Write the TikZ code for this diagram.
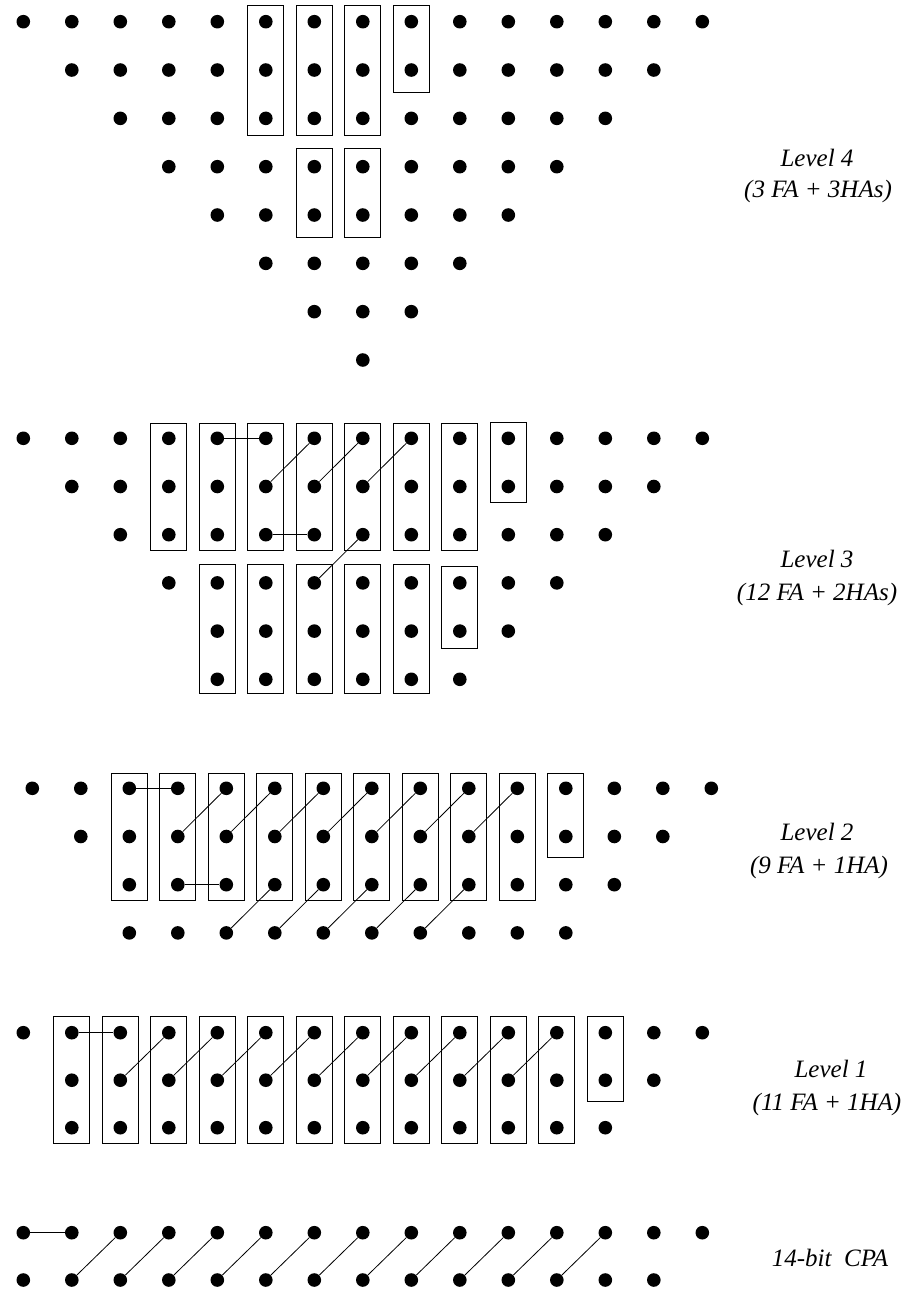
\documentclass[tikz,border=0pt]{standalone}
\usepackage{fontspec}
\setmainfont{Liberation Serif}
\begin{document}
\begin{tikzpicture}[x=0.75pt,y=-0.75pt,
  dot/.style={circle,fill=black,draw=none,inner sep=0pt,minimum size=10.2pt},
  boxline/.style={draw=black,line width=0.75pt},
  wire/.style={draw=black,line width=0.6pt},
  lbl/.style={font=\fontsize{18.75}{22}\selectfont\itshape,anchor=base,inner sep=0pt}]
\path[use as bounding box] (0,0) rectangle (913,1291);
\newcommand{\fabx}[4]{\draw[boxline] ([shift={(-18,-#3)}]#1.center) rectangle ([shift={(18,#4)}]#2.center);}
% ---------- Level 4 ----------
\foreach \r/\a/\b in {0/0/14,1/1/13,2/2/12,3/3/11,4/4/10,5/5/9,6/6/8,7/7/7}
  \foreach \c in {\a,...,\b}
    \node[dot] (d4-\r-\c) at ({23.3+48.5*\c},{21.7+48.33*\r}) {};
\foreach \c in {5,6,7} \fabx{d4-0-\c}{d4-2-\c}{16}{17};
\fabx{d4-0-8}{d4-1-8}{16}{22}
\foreach \c in {6,7} \fabx{d4-3-\c}{d4-4-\c}{18}{22};
% ---------- Level 3 ----------
\foreach \r/\a/\b in {0/0/14,1/1/13,2/2/12,3/3/11,4/4/10,5/4/9}
  \foreach \c in {\a,...,\b}
    \node[dot] (d3-\r-\c) at ({23.3+48.5*\c},{438.3+48.2*\r}) {};
\foreach \c in {3,...,9} \fabx{d3-0-\c}{d3-2-\c}{15}{16};
\fabx{d3-0-10}{d3-1-10}{16}{16}
\foreach \c in {4,...,8} \fabx{d3-3-\c}{d3-5-\c}{18}{14};
\fabx{d3-3-9}{d3-4-9}{16}{17}
\draw[wire] (d3-0-4) -- (d3-0-5);
\draw[wire] (d3-2-5) -- (d3-2-6);
\foreach \c [evaluate=\c as \n using int(\c+1)] in {5,6,7} \draw[wire] (d3-1-\c) -- (d3-0-\n);
\draw[wire] (d3-3-6) -- (d3-2-7);
% ---------- Level 2 ----------
\foreach \r/\a/\b in {0/0/14,1/1/13,2/2/12,3/2/11}
  \foreach \c in {\a,...,\b}
    \node[dot] (d2-\r-\c) at ({32.3+48.5*\c},{788.3+48.2*\r}) {};
\foreach \c in {2,...,10} \fabx{d2-0-\c}{d2-2-\c}{15}{16};
\fabx{d2-0-11}{d2-1-11}{15}{21}
\draw[wire] (d2-0-2) -- (d2-0-3);
\draw[wire] (d2-2-3) -- (d2-2-4);
\foreach \c [evaluate=\c as \n using int(\c+1)] in {3,...,9} \draw[wire] (d2-1-\c) -- (d2-0-\n);
\foreach \c [evaluate=\c as \n using int(\c+1)] in {4,...,8} \draw[wire] (d2-3-\c) -- (d2-2-\n);
% ---------- Level 1 ----------
\foreach \r/\a/\b in {0/0/14,1/1/13,2/1/12}
  \foreach \c in {\a,...,\b}
    \node[dot] (d1-\r-\c) at ({23.3+48.5*\c},{1032.7+47.5*\r}) {};
\foreach \c in {1,...,11} \fabx{d1-0-\c}{d1-2-\c}{16}{16};
\fabx{d1-0-12}{d1-1-12}{16}{21}
\draw[wire] (d1-0-1) -- (d1-0-2);
\foreach \c [evaluate=\c as \n using int(\c+1)] in {2,...,10} \draw[wire] (d1-1-\c) -- (d1-0-\n);
% ---------- CPA ----------
\foreach \r/\a/\b in {0/0/14,1/0/13}
  \foreach \c in {\a,...,\b}
    \node[dot] (d0-\r-\c) at ({23.3+48.5*\c},{1232.7+47.3*\r}) {};
\draw[wire] (d0-0-0) -- (d0-0-1);
\foreach \c [evaluate=\c as \n using int(\c+1)] in {1,...,11} \draw[wire] (d0-1-\c) -- (d0-0-\n);
% ---------- Labels ----------
\node[lbl] (l4a) at (817,166.7) {Level 4};
\node[lbl] (l4b) at (818,197.5) {(3 FA + 3HAs)};
\node[lbl] (l3a) at (817,567.7) {Level 3};
\node[lbl] (l3b) at (817,600) {(12 FA + 2HAs)};
\node[lbl] (l2a) at (817,840.7) {Level 2};
\node[lbl] (l2b) at (819,873) {(9 FA + 1HA)};
\node[lbl] (l1a) at (831,1077.3) {Level 1};
\node[lbl] (l1b) at (827,1110) {(11 FA + 1HA)};
\node[lbl] (l0a) at (830,1266.7) {14-bit\ \ CPA};
\end{tikzpicture}
\end{document}
